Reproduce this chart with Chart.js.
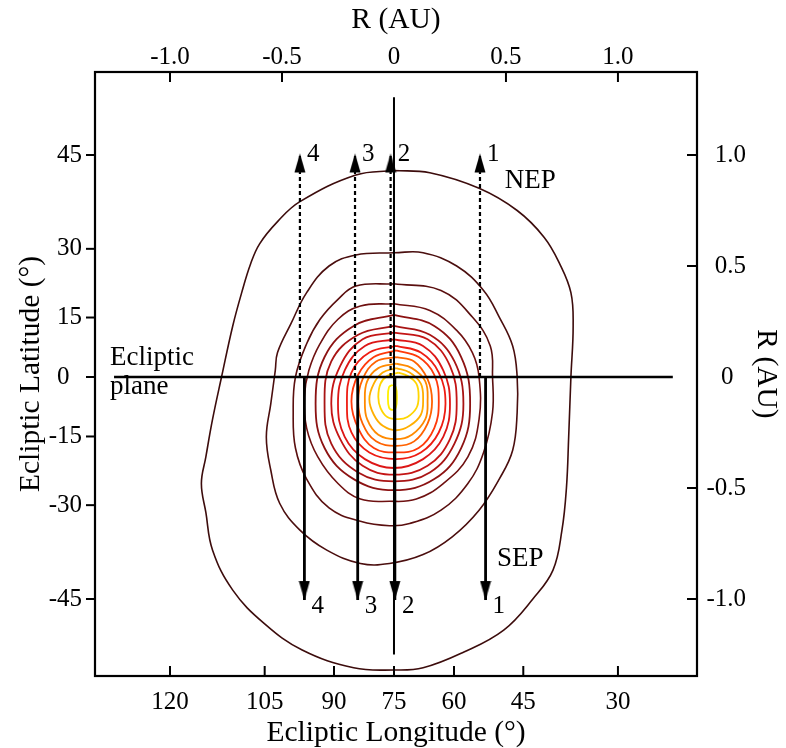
<!DOCTYPE html>
<html>
<head>
<meta charset="utf-8">
<script src="https://cdn.jsdelivr.net/npm/chart.js@4.4.1/dist/chart.umd.min.js"></script>
<style>
  html, body { margin: 0; padding: 0; background: #fff; }
  #chart { display: block; }
</style>
</head>
<body>
<canvas id="chart" width="786" height="748"></canvas>
<script>
// tick labels of the four axes
const longitudeTicks = [120, 105, 90, 75, 60, 45, 30];
const latitudeTicks = [45, 30, 15, 0, -15, -30, -45];
const radiusTicks = [-1.0, -0.5, 0, 0.5, 1.0];
const radiusLabels = ['-1.0', '-0.5', '0', '0.5', '1.0'];

// contour lines, [R_x, R_y] in AU, outermost first
const contour1 = [[0.00,0.93],[0.16,0.92],[0.38,0.85],[0.55,0.75],[0.67,0.63],[0.74,0.51],[0.79,0.38],[0.80,0.23],[0.79,0.00],[0.78,-0.27],[0.77,-0.50],[0.75,-0.69],[0.71,-0.87],[0.62,-1.00],[0.49,-1.14],[0.31,-1.24],[0.13,-1.31],[0.00,-1.32],[-0.18,-1.31],[-0.41,-1.23],[-0.58,-1.11],[-0.72,-0.96],[-0.81,-0.78],[-0.84,-0.61],[-0.86,-0.48],[-0.84,-0.36],[-0.81,-0.19],[-0.77,0.00],[-0.72,0.23],[-0.68,0.38],[-0.64,0.51],[-0.60,0.60],[-0.52,0.70],[-0.42,0.79],[-0.17,0.91],[0.00,0.93]];
const contour2 = [[0.00,0.56],[0.13,0.56],[0.28,0.50],[0.40,0.39],[0.47,0.27],[0.53,0.14],[0.55,0.00],[0.55,-0.16],[0.53,-0.33],[0.47,-0.46],[0.38,-0.60],[0.26,-0.72],[0.13,-0.80],[-0.02,-0.84],[-0.15,-0.84],[-0.30,-0.78],[-0.42,-0.69],[-0.51,-0.57],[-0.55,-0.42],[-0.57,-0.27],[-0.55,-0.12],[-0.53,0.03],[-0.52,0.11],[-0.46,0.24],[-0.39,0.38],[-0.29,0.50],[-0.17,0.55],[0.00,0.56]];
const contour3 = [[0.00,0.42],[0.21,0.39],[0.35,0.27],[0.43,0.14],[0.44,0.00],[0.44,-0.16],[0.40,-0.34],[0.33,-0.48],[0.21,-0.60],[0.07,-0.66],[-0.02,-0.67],[-0.15,-0.65],[-0.29,-0.59],[-0.39,-0.46],[-0.44,-0.32],[-0.45,-0.16],[-0.44,0.00],[-0.39,0.15],[-0.33,0.26],[-0.25,0.35],[-0.17,0.41],[0.00,0.42]];
const contour4 = [[0.00,0.33],[0.16,0.30],[0.28,0.21],[0.35,0.11],[0.38,0.00],[0.38,-0.19],[0.33,-0.36],[0.22,-0.48],[0.10,-0.55],[-0.02,-0.56],[-0.15,-0.55],[-0.25,-0.48],[-0.34,-0.36],[-0.39,-0.23],[-0.40,-0.09],[-0.38,0.03],[-0.33,0.15],[-0.25,0.26],[-0.15,0.32],[0.00,0.33]];
const contour5 = [[0.00,0.28],[0.18,0.23],[0.30,0.09],[0.34,-0.12],[0.30,-0.32],[0.18,-0.46],[0.00,-0.51],[-0.18,-0.46],[-0.31,-0.32],[-0.35,-0.12],[-0.31,0.09],[-0.18,0.23],[0.00,0.28]];
const contour6 = [[0.00,0.23],[0.16,0.19],[0.27,0.07],[0.31,-0.12],[0.27,-0.30],[0.16,-0.43],[0.00,-0.47],[-0.16,-0.43],[-0.28,-0.30],[-0.31,-0.12],[-0.28,0.07],[-0.16,0.19],[0.00,0.23]];
const contour7 = [[0.00,0.20],[0.15,0.17],[0.25,0.05],[0.28,-0.12],[0.25,-0.28],[0.15,-0.40],[0.00,-0.44],[-0.14,-0.40],[-0.24,-0.28],[-0.28,-0.12],[-0.24,0.05],[-0.14,0.17],[0.00,0.20]];
const contour8 = [[0.00,0.17],[0.13,0.14],[0.22,0.03],[0.25,-0.12],[0.22,-0.27],[0.13,-0.37],[0.00,-0.41],[-0.13,-0.37],[-0.22,-0.27],[-0.25,-0.12],[-0.22,0.03],[-0.13,0.14],[0.00,0.17]];
const contour9 = [[0.01,0.14],[0.12,0.11],[0.20,0.02],[0.23,-0.12],[0.20,-0.25],[0.12,-0.34],[0.01,-0.37],[-0.11,-0.34],[-0.19,-0.25],[-0.21,-0.12],[-0.19,0.02],[-0.11,0.11],[0.01,0.14]];
const contour10 = [[0.01,0.12],[0.11,0.09],[0.18,0.01],[0.20,-0.11],[0.18,-0.23],[0.11,-0.32],[0.01,-0.34],[-0.09,-0.32],[-0.16,-0.23],[-0.19,-0.11],[-0.16,0.01],[-0.09,0.09],[0.01,0.12]];
const contour11 = [[0.01,0.09],[0.09,0.07],[0.15,-0.01],[0.17,-0.11],[0.15,-0.21],[0.09,-0.29],[0.01,-0.31],[-0.08,-0.29],[-0.14,-0.21],[-0.16,-0.11],[-0.14,-0.01],[-0.08,0.07],[0.01,0.09]];
const contour12 = [[0.01,0.06],[0.08,0.04],[0.14,-0.02],[0.15,-0.11],[0.14,-0.19],[0.08,-0.26],[0.01,-0.28],[-0.07,-0.26],[-0.12,-0.19],[-0.13,-0.11],[-0.12,-0.02],[-0.07,0.04],[0.01,0.06]];
const contour13 = [[0.01,0.04],[0.07,0.02],[0.12,-0.03],[0.13,-0.10],[0.12,-0.17],[0.07,-0.22],[0.01,-0.24],[-0.05,-0.22],[-0.09,-0.17],[-0.11,-0.10],[-0.09,-0.03],[-0.05,0.02],[0.01,0.04]];
const contour14 = [[0.02,0.02],[0.06,0.005],[0.10,-0.03],[0.11,-0.09],[0.10,-0.14],[0.06,-0.18],[0.02,-0.19],[-0.03,-0.18],[-0.06,-0.14],[-0.07,-0.09],[-0.06,-0.03],[-0.03,0.005],[0.02,0.02]];
const contour15 = [[-0.007,-0.036],[0.008,-0.045],[0.013,-0.092],[0.008,-0.138],[-0.007,-0.148],[-0.022,-0.138],[-0.027,-0.092],[-0.022,-0.045],[-0.007,-0.036]];

// reference lines and arrows (AU)
const eclipticLine = [[-1.25, 0], [1.245, 0]];
const meridianLine = [[0, 1.26], [0, -1.25]];
const arrowNames = ['1', '2', '3', '4'];
const upArrowX = [0.384, -0.015, -0.174, -0.42];
const downArrowX = [0.409, 0.004, -0.162, -0.40];
const upArrowTip = 1.007;
const downArrowTip = -1.005;

// free text
const textNotes = [
    { text: 'NEP', x: 0.495, y: 0.883 },
    { text: 'SEP', x: 0.46, y: -0.82 },
    { text: 'Ecliptic', x: -1.268, y: 0.085 },
    { text: 'plane', x: -1.268, y: -0.045 }
];

const contours = [contour1, contour2, contour3, contour4, contour5, contour6, contour7, contour8,
    contour9, contour10, contour11, contour12, contour13, contour14, contour15];
const contourColors = ['#3c0c0c', '#4a0e0e', '#5a0f0f', '#6e1010', '#8c1212', '#a81414', '#c41515',
    '#dc1616', '#ee1c12', '#ff3a0a', '#ff6200', '#ff8a00', '#ffae00', '#ffd500', '#fff000'];

const serif = "'Liberation Serif', 'Times New Roman', serif";
const toR = deg => Math.tan(deg * Math.PI / 180);
const toPoints = arr => arr.map(p => ({ x: p[0], y: p[1] }));

// наконечник стрелки: остриё в центре картинки
function makeArrowHead() {
    const c = document.createElement('canvas');
    c.width = 12;
    c.height = 40;
    const g = c.getContext('2d');
    g.fillStyle = '#000';
    g.beginPath();
    g.moveTo(6, 20);
    g.lineTo(11.5, 39);
    g.lineTo(0.5, 39);
    g.closePath();
    g.fill();
    return c;
}
const arrowHead = makeArrowHead();

const datasets = [];

contours.forEach((c, i) => {
    datasets.push({
        data: toPoints(c),
        borderColor: contourColors[i],
        borderWidth: i < 4 ? 1.6 : 1.8,
        tension: 0.4,
        pointRadius: 0,
        order: 5
    });
});

datasets.push({ data: toPoints(eclipticLine), borderColor: '#000', borderWidth: 2.6, pointRadius: 0, order: 1 });
datasets.push({ data: toPoints(meridianLine), borderColor: '#000', borderWidth: 2, pointRadius: 0, order: 1 });

arrowNames.forEach((name, i) => {
    datasets.push({
        data: [{ x: upArrowX[i], y: 0 }, { x: upArrowX[i], y: upArrowTip }],
        borderColor: '#000', borderWidth: 2.2, borderDash: [4, 3],
        pointRadius: [0, 10], pointStyle: arrowHead, rotation: 0, order: 0
    });
    datasets.push({
        data: [{ x: downArrowX[i], y: 0 }, { x: downArrowX[i], y: downArrowTip }],
        borderColor: '#000', borderWidth: 2.8,
        pointRadius: [0, 10], pointStyle: arrowHead, rotation: 180, order: 0
    });
});

// рамка и засечки по шкалам
const framePlugin = {
    id: 'frame',
    afterDraw(chart) {
        const { ctx, chartArea: a, scales } = chart;
        ctx.save();
        ctx.strokeStyle = '#000';
        ctx.lineWidth = 2.2;
        ctx.strokeRect(a.left, a.top, a.right - a.left, a.bottom - a.top);
        ctx.lineWidth = 2;
        const seg = (x1, y1, x2, y2) => { ctx.beginPath(); ctx.moveTo(x1, y1); ctx.lineTo(x2, y2); ctx.stroke(); };
        scales.x.ticks.forEach(t => { const p = scales.x.getPixelForValue(t.value); seg(p, a.bottom, p, a.bottom - 10); });
        scales.xTop.ticks.forEach(t => { if (t.value === 0) return; const p = scales.xTop.getPixelForValue(t.value); seg(p, a.top, p, a.top + 10); });
        scales.y.ticks.forEach(t => { const p = scales.y.getPixelForValue(t.value); seg(a.left - 9, p, a.left, p); });
        scales.yRight.ticks.forEach(t => { if (t.value === 0) return; const p = scales.yRight.getPixelForValue(t.value); seg(a.right - 10, p, a.right, p); });
        ctx.restore();
    }
};

// подписи стрелок и текст на графике
const notesPlugin = {
    id: 'notes',
    afterDatasetsDraw(chart) {
        const { ctx, scales } = chart;
        const sx = scales.x, sy = scales.y;
        ctx.save();
        ctx.fillStyle = '#000';
        ctx.textBaseline = 'middle';
        ctx.textAlign = 'left';
        ctx.font = '25px ' + serif;
        arrowNames.forEach((name, i) => {
            ctx.fillText(name, sx.getPixelForValue(upArrowX[i]) + 7, sy.getPixelForValue(upArrowTip) + 1);
            ctx.fillText(name, sx.getPixelForValue(downArrowX[i]) + 7, sy.getPixelForValue(downArrowTip) + 6);
        });
        ctx.font = '27px ' + serif;
        textNotes.forEach(n => ctx.fillText(n.text, sx.getPixelForValue(n.x), sy.getPixelForValue(n.y)));
        ctx.restore();
    }
};

const tickFont = { family: serif, size: 25 };
const titleFont = { family: serif, size: 29.5 };
const xRange = { min: -1.335, max: 1.353 };
const yRange = { min: -1.347, max: 1.374 };

new Chart(document.getElementById('chart'), {
    type: 'scatter',
    data: { datasets: datasets.map(d => Object.assign({ showLine: true, fill: false }, d)) },
    options: {
        responsive: false,
        animation: false,
        layout: { padding: { left: 0, top: 0, bottom: 0, right: 40 } },
        plugins: { legend: { display: false }, tooltip: { enabled: false } },
        scales: {
            x: {
                type: 'linear', position: 'bottom', ...xRange,
                afterBuildTicks: s => { s.ticks = longitudeTicks.map(l => ({ value: toR(75 - l) })); },
                afterFit: s => { s.height = 72; },
                grid: { display: false, drawTicks: false }, border: { display: false },
                ticks: { autoSkip: false, maxRotation: 0, padding: 11, color: '#000', font: tickFont,
                    callback: (v, i) => String(longitudeTicks[i]) },
                title: { display: true, text: 'Ecliptic Longitude (°)', color: '#000', font: titleFont, padding: { top: 0, bottom: -3 } }
            },
            xTop: {
                type: 'linear', position: 'top', ...xRange,
                afterBuildTicks: s => { s.ticks = radiusTicks.map(v => ({ value: v })); },
                afterFit: s => { s.height = 72; },
                grid: { display: false, drawTicks: false }, border: { display: false },
                ticks: { autoSkip: false, maxRotation: 0, padding: 0, color: '#000', font: tickFont,
                    callback: (v, i) => radiusLabels[i] },
                title: { display: true, text: 'R (AU)', color: '#000', font: titleFont, padding: { top: 3, bottom: 0 } }
            },
            y: {
                type: 'linear', position: 'left', ...yRange,
                afterBuildTicks: s => { s.ticks = latitudeTicks.map(l => ({ value: toR(l) })); },
                afterFit: s => { s.width = 95; },
                grid: { display: false, drawTicks: false }, border: { display: false },
                ticks: { autoSkip: false, padding: 13, color: '#000', font: tickFont,
                    callback: (v, i) => latitudeTicks[i] === 0 ? '0\u2002' : String(latitudeTicks[i]) },
                title: { display: true, text: 'Ecliptic Latitude (°)', color: '#000', font: titleFont, padding: { top: 14, bottom: 0 } }
            },
            yRight: {
                type: 'linear', position: 'right', ...yRange,
                afterBuildTicks: s => { s.ticks = radiusTicks.map(v => ({ value: v })); },
                afterFit: s => { s.width = 49; },
                grid: { display: false, drawTicks: false }, border: { display: false },
                ticks: { autoSkip: false, crossAlign: 'far', color: '#000', font: tickFont,
                    callback: (v, i) => radiusTicks[i] === 0 ? '0\u2002' : radiusLabels[i] },
                title: { display: true, text: 'R (AU)', color: '#000', font: titleFont, padding: { top: -37, bottom: 0 } }
            }
        }
    },
    plugins: [framePlugin, notesPlugin]
});
</script>
</body>
</html>
